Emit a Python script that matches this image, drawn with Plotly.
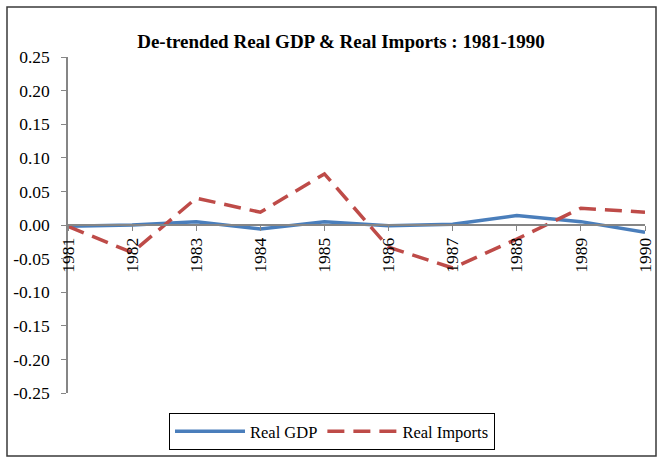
import plotly.graph_objects as go

years = [1981, 1982, 1983, 1984, 1985, 1986, 1987, 1988, 1989, 1990]
real_gdp = [-0.002, 0.0, 0.005, -0.006, 0.005, -0.001, 0.001, 0.014, 0.005, -0.011]
real_imports = [-0.002, -0.041, 0.040, 0.019, 0.076, -0.033, -0.064, -0.021, 0.025, 0.019]
y_ticks = [0.25, 0.20, 0.15, 0.10, 0.05, 0.0, -0.05, -0.10, -0.15, -0.20, -0.25]
y_labels = ["0.25", "0.20", "0.15", "0.10", "0.05", "0.00", "-0.05", "-0.10", "-0.15", "-0.20", "-0.25"]
title = "De-trended Real GDP & Real Imports : 1981-1990"

font_family = "Liberation Serif, Times New Roman, serif"

fig = go.Figure()
fig.add_trace(go.Scatter(x=years, y=real_gdp, mode="lines", name="Real GDP",
                         line=dict(color="#4A7EBB", width=3.5)))
fig.add_trace(go.Scatter(x=years, y=real_imports, mode="lines", name="Real Imports",
                         line=dict(color="#BE4B48", width=3.5, dash="17px,9px")))

L, R, T, B = 68, 13, 57, 67
W, H = 658, 460
pw, ph = W - L - R, H - T - B

def px_x(p):
    return (p - L) / pw

def px_y(p):
    return (H - B - p) / ph

fig.add_shape(type="rect", xref="paper", yref="paper",
              x0=px_x(7), x1=px_x(656), y0=px_y(456), y1=px_y(7),
              line=dict(color="#3a3a3a", width=1.5), fillcolor="rgba(0,0,0,0)")

fig.update_layout(
    width=W, height=H,
    margin=dict(l=L, r=R, t=T, b=B, autoexpand=False),
    paper_bgcolor="white", plot_bgcolor="white",
    font=dict(family=font_family, size=17, color="black"),
    title=dict(text="<b>" + title + "</b>", x=341 / W, xanchor="center",
               y=1 - 41 / H, yanchor="middle", yref="container",
               font=dict(family=font_family, size=19, color="black")),
    xaxis=dict(range=[1981, 1990], tickvals=years, ticktext=[str(y) for y in years],
               tickangle=-90, anchor="free", position=0.5,
               showline=True, linecolor="#868686", linewidth=1.5,
               ticks="outside", ticklen=5, tickcolor="#868686",
               showgrid=False, zeroline=False,
               tickfont=dict(family=font_family, size=17.5, color="black")),
    yaxis=dict(range=[-0.25, 0.25], tickvals=y_ticks, ticktext=y_labels,
               showline=True, linecolor="#868686", linewidth=1.5,
               ticks="outside", ticklen=5, tickcolor="#868686",
               ticklabelstandoff=8,
               showgrid=False, zeroline=False,
               tickfont=dict(family=font_family, size=17.5, color="black")),
    legend=dict(orientation="h", x=px_x(332), xanchor="center",
                y=px_y(413), yanchor="top",
                bordercolor="black", borderwidth=1,
                font=dict(family=font_family, size=16.5, color="black"),
                itemwidth=70),
)

fig.write_html("out.html", config={"displayModeBar": False},
               post_script="document.body.style.margin='0';document.body.style.padding='0';")
